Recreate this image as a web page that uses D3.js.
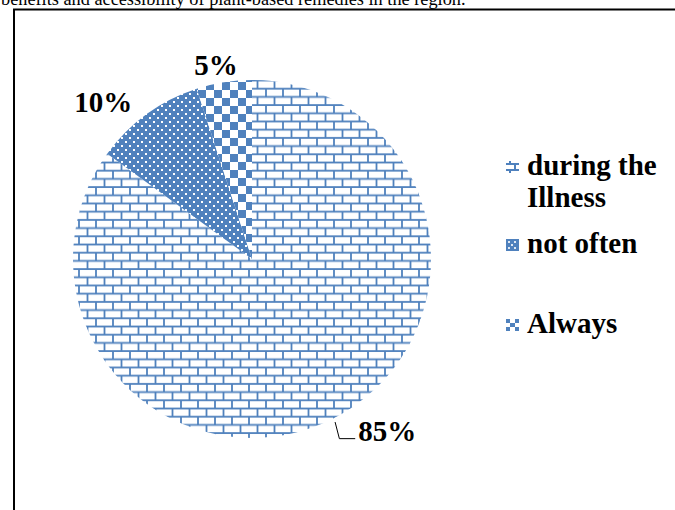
<!DOCTYPE html>
<html>
<head>
<meta charset="utf-8">
<script src="https://cdn.jsdelivr.net/npm/d3@7"></script>
<style>
  html, body { margin: 0; padding: 0; background: #fff; overflow: hidden; }
  svg { display: block; }
  .serif { font-family: "Liberation Serif"; }
</style>
</head>
<body>
<svg id="chart" width="675" height="510"></svg>
<script>
// Frequency of use of plant-based remedies
const categories = ["during the Illness", "not often", "Always"];
const legendLines = [["during the", "Illness"], ["not often"], ["Always"]];
const values = [85, 10, 5];
const valueLabels = ["85%", "10%", "5%"];
const patternIds = ["brick", "dots", "checker"];

const W = 675, H = 510;
const blue = "#4f81bd";
const svg = d3.select("#chart");
const defs = svg.append("defs");

// Horizontal brick fill
const brick = defs.append("pattern")
  .attr("id", "brick").attr("patternUnits", "userSpaceOnUse")
  .attr("width", 17).attr("height", 16.4)
  .attr("x", 10).attr("y", 5.7);
brick.append("rect").attr("width", 17).attr("height", 16.4).attr("fill", "#fff");
const bp = brick.append("g").attr("stroke", blue).attr("stroke-width", 1.8).attr("fill", "none");
bp.append("line").attr("x1", 0).attr("x2", 17).attr("y1", 1).attr("y2", 1);
bp.append("line").attr("x1", 0).attr("x2", 17).attr("y1", 9.2).attr("y2", 9.2);
bp.append("line").attr("x1", 1).attr("x2", 1).attr("y1", 1).attr("y2", 9.2);
bp.append("line").attr("x1", 9.5).attr("x2", 9.5).attr("y1", 9.2).attr("y2", 17.4);
bp.append("line").attr("x1", 9.5).attr("x2", 9.5).attr("y1", -7.2).attr("y2", 1);

// Dotted grid fill
const dots = defs.append("pattern")
  .attr("id", "dots").attr("patternUnits", "userSpaceOnUse")
  .attr("width", 8).attr("height", 8);
dots.append("rect").attr("width", 8).attr("height", 8).attr("fill", blue);
dots.append("rect").attr("x", 1).attr("y", 1).attr("width", 2).attr("height", 2).attr("fill", "#fff");
dots.append("rect").attr("x", 5).attr("y", 5).attr("width", 2).attr("height", 2).attr("fill", "#fff");

// Checkerboard fill
const checker = defs.append("pattern")
  .attr("id", "checker").attr("patternUnits", "userSpaceOnUse")
  .attr("width", 16).attr("height", 16).attr("x", 206).attr("y", 82);
checker.append("rect").attr("width", 16).attr("height", 16).attr("fill", "#fff");
checker.append("rect").attr("width", 8).attr("height", 8).attr("fill", blue);
checker.append("rect").attr("x", 8).attr("y", 8).attr("width", 8).attr("height", 8).attr("fill", blue);

// Caption line above the frame
svg.append("text")
  .attr("class", "serif")
  .attr("x", 1).attr("y", 5)
  .attr("font-size", 18.3)
  .attr("fill", "#000")
  .text("benefits and accessibility of plant-based remedies in the region.");

// Chart frame
svg.append("path")
  .attr("d", `M14,${H + 5} L14,9.5 L${W + 5},9.5`)
  .attr("fill", "none").attr("stroke", "#000").attr("stroke-width", 2);

// Pie
const cx = 252, cy = 259, R = 179;
const pie = d3.pie().sort(null).value(d => d)
  .startAngle(0).endAngle(2 * Math.PI);
const arcs = pie(values);

// slices are drawn in page coordinates so the fills stay aligned
const arc = d => {
  const p = d3.path();
  p.moveTo(cx, cy);
  p.arc(cx, cy, R, d.startAngle - Math.PI / 2, d.endAngle - Math.PI / 2);
  p.closePath();
  return p.toString();
};
svg.append("g").selectAll("path.slice")
  .data(arcs)
  .join("path")
  .attr("class", "slice")
  .attr("d", arc)
  .attr("fill", (d, i) => `url(#${patternIds[i]})`)
  .attr("stroke", "none");

// Data labels placed around the pie (angle in degrees, radius)
const labelPlace = [
  { angle: 142, radius: 218, anchor: "start", dx: -28, leader: true },
  { angle: -43.5, radius: 216, anchor: "middle", dx: 0, leader: false },
  { angle: -10.5, radius: 197, anchor: "middle", dx: 0, leader: false }
];
const polar = (deg, r) => [cx + Math.sin(deg * Math.PI / 180) * r, cy - Math.cos(deg * Math.PI / 180) * r];

// bold label text
const boldText = (sel) => sel
  .attr("class", "serif")
  .attr("font-weight", "bold")
  .attr("font-size", 29).attr("fill", "#000");

arcs.forEach((d, i) => {
  const lp = labelPlace[i];
  const [x, y] = polar(lp.angle, lp.radius);
  svg.append("text")
    .attr("x", x + lp.dx).attr("y", y)
    .attr("dy", "0.34em")
    .attr("text-anchor", lp.anchor)
    .call(boldText)
    .text(valueLabels[i]);
  if (lp.leader) {
    const mid = (d.startAngle + d.endAngle) / 2 * 180 / Math.PI;
    const [sx, sy] = polar(mid, R + 4);
    const ty = y + 0.34 * 29 - 2;
    svg.append("path")
      .attr("d", `M${sx},${sy} L${sx + 4.3},${ty} L${x + lp.dx - 3},${ty}`)
      .attr("fill", "none").attr("stroke", "#000").attr("stroke-width", 1);
  }
});

// Legend
const legendY = [175, 253, 333];
const legend = svg.append("g");
legendLines.forEach((lines, i) => {
  const y = legendY[i];
  legend.append("rect")
    .attr("x", 506).attr("y", y - 14).attr("width", 13).attr("height", 12)
    .attr("fill", `url(#${patternIds[i]}L)`);
  const t = legend.append("text")
    .attr("x", 527).attr("y", y)
    .call(boldText);
  lines.forEach((ln, k) => {
    t.append("tspan").attr("x", 527).attr("dy", k === 0 ? 0 : 32).text(ln);
  });
});

// Small legend swatch patterns aligned to each swatch
legendY.forEach((y, i) => {
  const id = patternIds[i] + "L";
  const p = defs.append("pattern").attr("id", id)
    .attr("patternUnits", "userSpaceOnUse")
    .attr("x", 506).attr("y", y - 14)
    .attr("width", 13).attr("height", 12);
  if (i === 0) {
    p.append("rect").attr("width", 13).attr("height", 12).attr("fill", "#fff");
    const s = p.append("g").attr("stroke", blue).attr("stroke-width", 2);
    s.append("line").attr("x1", 0).attr("x2", 13).attr("y1", 3).attr("y2", 3);
    s.append("line").attr("x1", 0).attr("x2", 13).attr("y1", 9).attr("y2", 9);
    s.append("line").attr("x1", 4).attr("x2", 4).attr("y1", 0).attr("y2", 3);
    s.append("line").attr("x1", 4).attr("x2", 4).attr("y1", 9).attr("y2", 12);
    s.append("line").attr("x1", 9).attr("x2", 9).attr("y1", 3).attr("y2", 9);
  } else if (i === 1) {
    p.append("rect").attr("width", 13).attr("height", 12).attr("fill", blue);
    [[2, 2], [8, 2], [5, 5], [2, 8], [8, 8]].forEach(([dx, dy]) =>
      p.append("rect").attr("x", dx).attr("y", dy).attr("width", 2).attr("height", 2).attr("fill", "#dfe8f3"));
  } else {
    p.append("rect").attr("width", 13).attr("height", 12).attr("fill", "#fff");
    [[0, 0, 4, 4], [9, 0, 4, 4], [4, 4, 5, 4], [0, 8, 4, 4], [9, 8, 4, 4]].forEach(([x, y2, w, h]) =>
      p.append("rect").attr("x", x).attr("y", y2).attr("width", w).attr("height", h).attr("fill", blue));
  }
});
</script>
</body>
</html>
